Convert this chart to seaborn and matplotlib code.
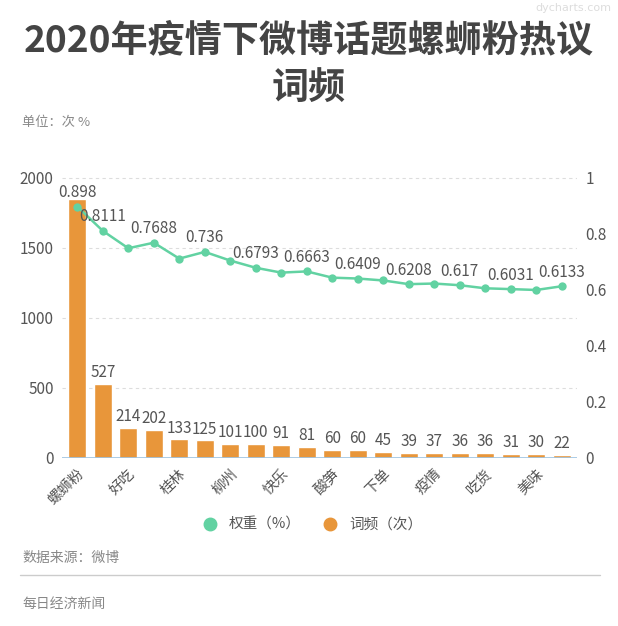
import numpy as np
import pandas as pd
import matplotlib
matplotlib.use("Agg")
import matplotlib.pyplot as plt
from matplotlib.lines import Line2D
import seaborn as sns

# categories (only every other label is shown in the chart)
labels = ["螺蛳粉", "", "好吃", "", "桂林", "", "柳州", "", "快乐", "",
          "酸笋", "", "下单", "", "疫情", "", "吃货", "", "美味", ""]
freq = [1850, 527, 214, 202, 133, 125, 101, 100, 91, 81,
        60, 60, 45, 39, 37, 36, 36, 31, 30, 22]
weight = [0.898, 0.8111, 0.749, 0.7688, 0.712, 0.736, 0.705, 0.6793, 0.662, 0.6663,
          0.644, 0.6409, 0.634, 0.6208, 0.623, 0.617, 0.606, 0.6031, 0.600, 0.6133]
weight_shown = [0, 1, 3, 5, 7, 9, 11, 13, 15, 17, 19]

BAR = "#E8963A"
LINE = "#62D2A2"
TXT = "#555555"

sns.set_theme(style="white")
plt.rcParams["font.family"] = ["Noto Sans CJK SC", "DejaVu Sans"]

df = pd.DataFrame({"idx": range(len(freq)), "freq": freq, "weight": weight})

fig = plt.figure(figsize=(6.18, 6.26), dpi=100)
ax = fig.add_axes([62 / 618, (626 - 458) / 626, 515 / 618, (458 - 169) / 626])

sns.barplot(data=df, x="idx", y="freq", color=BAR, width=0.7, saturation=1, ax=ax)
ax.set_ylim(0, 2064)
ax.set_yticks([0, 500, 1000, 1500, 2000])
ax.set_xlim(-0.6, len(freq) - 0.4)
ax.grid(axis="y", color="#dddddd", linestyle=(0, (3, 3)), linewidth=0.8)
ax.set_axisbelow(True)
for s in ax.spines.values():
    s.set_visible(False)
ax.axhline(0, color="#9cc3e2", linewidth=1.2, zorder=3)
ax.set_xlabel("")
ax.set_ylabel("")
ax.tick_params(axis="y", length=0, labelsize=11, labelcolor=TXT, pad=6)
ax.set_xticks(range(len(labels)))
ax.set_xticklabels(labels, rotation=45, ha="right", rotation_mode="anchor",
                   fontsize=10.5, color=TXT)
ax.tick_params(axis="x", length=0, pad=6)

for i, v in enumerate(freq):
    if i == 0:
        continue
    ax.annotate(str(v), (i, v), xytext=(0, 2), textcoords="offset points",
                ha="center", va="bottom", fontsize=11, color=TXT)

ax2 = ax.twinx()
sns.lineplot(data=df, x="idx", y="weight", color=LINE, linewidth=1.8,
             marker="o", markersize=6, markeredgewidth=0, ax=ax2)
ax2.set_ylim(0, 1.032)
ax2.set_yticks([0, 0.2, 0.4, 0.6, 0.8, 1])
ax2.set_yticklabels(["0", "0.2", "0.4", "0.6", "0.8", "1"])
ax2.tick_params(axis="y", length=0, labelsize=11, labelcolor=TXT, pad=6)
ax2.set_xlabel("")
ax2.set_ylabel("")
ax2.grid(False)
for s in ax2.spines.values():
    s.set_visible(False)

for i in weight_shown:
    ax2.annotate(f"{weight[i]:g}", (i, weight[i]), xytext=(0, 4), textcoords="offset points",
                 ha="center", va="bottom", fontsize=11, color=TXT)

# title and notes
fig.text(0.5, 1 - 41 / 626, "2020年疫情下微博话题螺蛳粉热议", ha="center", va="center",
         fontsize=26.7, fontweight="bold", color="#444444")
fig.text(0.5, 1 - 89 / 626, "词频", ha="center", va="center",
         fontsize=26.7, fontweight="bold", color="#444444")
fig.text(0.99, 1 - 8 / 626, "dycharts.com", ha="right", va="center",
         fontsize=8, color="#dddddd", family="DejaVu Sans")
fig.text(22 / 618, 1 - 123 / 626, "单位：次 %", ha="left", va="center",
         fontsize=9.5, color="#888888")

handles = [Line2D([], [], marker="o", linestyle="", markersize=9, color=LINE),
           Line2D([], [], marker="o", linestyle="", markersize=9, color=BAR)]
fig.legend(handles, ["权重（%）", "词频（次）"], loc="center", ncol=2,
           bbox_to_anchor=(0.5, 1 - 525 / 626), frameon=False, fontsize=10.5,
           handletextpad=0.3, columnspacing=1.0, labelcolor=TXT)

fig.text(22 / 618, 1 - 558 / 626, "数据来源：微博", ha="left", va="center",
         fontsize=10, color="#888888")
fig.add_artist(Line2D([20 / 618, 600 / 618], [1 - 575 / 626] * 2, color="#cccccc", linewidth=1))
fig.text(22 / 618, 1 - 604 / 626, "每日经济新闻", ha="left", va="center",
         fontsize=10, color="#888888")

fig.savefig("out.png", dpi=100)
